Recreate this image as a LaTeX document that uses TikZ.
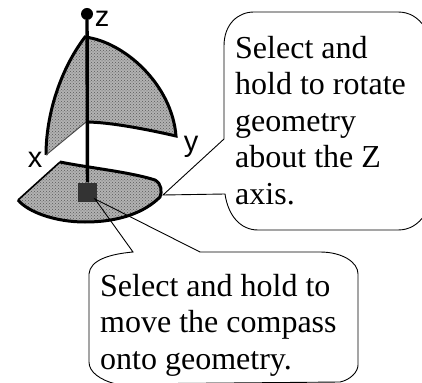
\documentclass[tikz,border=0pt]{standalone}
\usepackage{fontspec}
\setmainfont{Liberation Serif}
\newfontfamily\axisfont{Liberation Sans}
\usetikzlibrary{patterns}

\begin{document}
\begin{tikzpicture}[
            x=1pt, y=-1pt,
            note/.style={inner sep=0pt, align=left, anchor=north west,
                         font=\fontsize{32}{36.5}\selectfont},
            bubble/.style={draw=black, line width=0.9pt},
            axislbl/.style={inner sep=0pt, font=\fontsize{29}{29}\axisfont},
            surface/.style={preaction={fill=black!30}, pattern=crosshatch dots, pattern color=black!65}
        ]
        \useasboundingbox (0,0) rectangle (422,382);

        % --- Upper wedge ---
        \path[surface] (85,37) .. controls (125,42) and (172,85) .. (176,136)
            .. controls (150,130) and (110,122) .. (86,122) -- (45,155)
            .. controls (46,115) and (60,70) .. (85,37) -- cycle;
        \draw[line width=3pt] (46,155) .. controls (46,115) and (60,70) .. (85,37)
            .. controls (125,42) and (172,85) .. (176,136)
            .. controls (150,130) and (110,122) .. (86,122);
        \draw[line width=1pt, black!70] (86,122) -- (46,155);

        % --- Lower wedge ---
        \path[surface] (18,200) -- (60,162)
            .. controls (90,168) and (130,172) .. (155,180)
            .. controls (162,184) and (162,192) .. (160,197)
            .. controls (145,212) and (120,222) .. (85,222)
            .. controls (55,222) and (28,212) .. (18,200) -- cycle;
        \draw[line width=3pt] (60,162) .. controls (90,168) and (130,172) .. (155,180)
            .. controls (162,184) and (162,192) .. (160,197)
            .. controls (145,212) and (120,222) .. (85,222)
            .. controls (55,222) and (28,212) .. (18,200);
        \draw[line width=1.6pt] (18,200) -- (60,162);

        % --- Axis and handle ---
        \node[circle, fill=black, inner sep=0pt, minimum size=12pt] (top) at (87,14) {};
        \node[fill=black!80, inner sep=0pt, minimum size=19pt] (handle) at (87.5,192) {};
        \draw[line width=3.4pt] (top) -- (handle);
        \node[axislbl] (zlbl) at (102,19) {z};
        \node[axislbl] (ylbl) at (191,147) {y};
        \node[axislbl] (xlbl) at (35,160) {x};

        % --- Callouts ---
        \draw[bubble] (224,46) .. controls (224,24) and (238,12) .. (254,12) -- (398,12)
            .. controls (410,12) and (418,18) .. (424,26) -- (424,216)
            .. controls (418,224) and (410,230) .. (398,230) -- (258,230)
            .. controls (240,230) and (228,215) .. (225,194) -- (163,195) -- (224,139) -- cycle;
        \node[note] (rotnote) at (235,36) {Select and\\hold to rotate\\geometry\\about the Z\\axis.};

        \draw[bubble] (89,274) .. controls (90,260) and (110,254) .. (133,252) -- (95,199)
            -- (200,252) -- (320,252) .. controls (342,252) and (358,262) .. (358,274)
            -- (358,365) .. controls (358,372) and (350,380) .. (340,382) -- (116,384)
            .. controls (100,380) and (89,372) .. (89,362) -- cycle;
        \node[note] (movenote) at (100,274) {Select and hold to\\move the compass\\onto geometry.};
\end{tikzpicture}
\end{document}
